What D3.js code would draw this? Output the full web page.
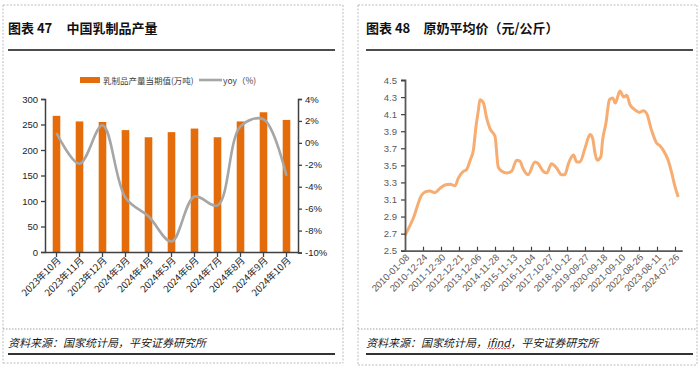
<!DOCTYPE html>
<html><head><meta charset="utf-8">
<script src="https://cdn.jsdelivr.net/npm/d3@7"></script>
<style>
html,body{margin:0;padding:0;background:#fff;}
svg{display:block;}
text{font-family:"Liberation Sans",Arial,"Noto Sans CJK SC",sans-serif;}
.cjk{font-family:"Noto Sans CJK SC","Liberation Sans",sans-serif;}
</style></head>
<body>
<svg id="c" width="700" height="369"></svg>
<script>
// ---------- data ----------
const months = ["2023年10月","2023年11月","2023年12月","2024年3月","2024年4月","2024年5月","2024年6月","2024年7月","2024年8月","2024年9月","2024年10月"];
const output = [267, 256, 255, 239, 225, 235, 242, 225, 256, 274, 259];
const yoy = [0.9, -1.9, 1.6, -5.0, -6.7, -9.0, -4.9, -5.7, 1.5, 2.15, -3.0];
const leftTicks = [0, 50, 100, 150, 200, 250, 300];
const rightTicks = [-10, -8, -6, -4, -2, 0, 2, 4];

const priceDateLabels = ["2010-01-08","2010-12-24","2011-12-30","2012-12-21","2013-12-06","2014-11-28","2015-11-13","2016-11-04","2017-10-27","2018-10-12","2019-09-27","2020-09-18","2021-09-10","2022-08-26","2023-08-11","2024-07-26"];
const priceWeek = [0,23,46,56,69,83,97,111,125,139,148,162,171,181,190,197,204,208,218,227,236,250,259,269,282,296,310,319,328,342,361,370,384,394,407,421,435,444,454,468,477,486,500,514,521,528,534,544,549,558,568,577,584,597,608,616,625,639,651,662,671,685,699,708,717,731,741,750,759];
const priceValue = [2.68,2.88,3.15,3.19,3.20,3.18,3.23,3.27,3.28,3.26,3.35,3.43,3.45,3.56,3.68,3.95,4.15,4.27,4.23,4.05,3.93,3.84,3.48,3.43,3.41,3.43,3.56,3.55,3.46,3.39,3.54,3.52,3.43,3.41,3.52,3.47,3.39,3.39,3.52,3.62,3.54,3.54,3.70,3.86,3.82,3.64,3.56,3.60,3.80,3.99,4.27,4.29,4.23,4.37,4.30,4.32,4.21,4.15,4.12,4.14,4.11,3.91,3.76,3.73,3.68,3.56,3.41,3.25,3.13];
const priceTicks = [2.5,2.7,2.9,3.1,3.3,3.5,3.7,3.9,4.1,4.3,4.5];

const svg = d3.select("#c");

// ---------- frames ----------
function frame(x0, x1, tx, tEnd, title1, title2, t2x, source, bottom) {
  const dash = (a, b, c, d) => svg.append("line").attr("x1", a).attr("y1", b).attr("x2", c).attr("y2", d)
    .attr("stroke", "#bdbdbd").attr("stroke-dasharray", "2,1.5");
  dash(x0, 5, x0, bottom); dash(x1, 5, x1, bottom); dash(x0, 5, x1, 5); dash(x0, bottom, x1, bottom);
  svg.append("line").attr("x1", x0).attr("x2", x1).attr("y1", 329).attr("y2", 329)
    .attr("stroke", "#a0a0a0").attr("stroke-dasharray", "1.5,1.5");
  svg.append("text").attr("class", "cjk").attr("x", tx).attr("y", 33)
    .attr("font-size", 13).attr("font-weight", "bold").attr("fill", "#111").text(title1);
  svg.append("text").attr("class", "cjk").attr("x", t2x).attr("y", 33)
    .attr("font-size", 13).attr("font-weight", "bold").attr("fill", "#111").text(title2);
  svg.append("line").attr("x1", tx).attr("x2", tEnd).attr("y1", 50).attr("y2", 50)
    .attr("stroke", "#111").attr("stroke-width", 1.6);
  const st = svg.append("text").attr("class", "cjk").attr("x", tx).attr("y", 347)
    .attr("font-size", 11).attr("font-style", "italic").attr("fill", "#1a1a1a").text(source);
  svg.append("line").attr("x1", tx).attr("x2", tEnd).attr("y1", 354).attr("y2", 354)
    .attr("stroke", "#333").attr("stroke-width", 1.8);
  return st;
}
frame(3, 343, 8, 335, "图表 47", "中国乳制品产量", 66.5, "资料来源：国家统计局，平安证券研究所", 363);
const st2 = frame(358, 697, 366, 693, "图表 48", "原奶平均价（元/公斤）", 423.5, "资料来源：国家统计局，ifind，平安证券研究所", 365);

// red wavy spell-check underline under "ifind"
(function () {
  const full = "资料来源：国家统计局，ifind，平安证券研究所";
  const s = full.indexOf("ifind");
  const node = st2.node();
  const a = node.getStartPositionOfChar(s).x;
  const b = node.getEndPositionOfChar(s + 4).x;
  let p = `M${a},349`;
  for (let xx = a, k = 0; xx < b; xx += 1.5, k++) p += ` L${Math.min(xx + 1.5, b)},${k % 2 ? 349 : 347.6}`;
  svg.append("path").attr("d", p).attr("fill", "none").attr("stroke", "#e03030").attr("stroke-width", 0.8);
})();

// ---------- left chart ----------
const x = d3.scaleBand().domain(months).range([45, 298]).paddingInner(0.67).paddingOuter(0.335);
const yL = d3.scaleLinear().domain([0, 300]).range([252, 99]);
const yR = d3.scaleLinear().domain([-10, 4]).range([252.5, 99]);
const gL = svg.append("g");

gL.selectAll("rect.bar").data(output).enter().append("rect")
  .attr("x", (d, i) => x(months[i])).attr("width", x.bandwidth())
  .attr("y", d => yL(d)).attr("height", d => yL(0) - yL(d)).attr("fill", "#E46C0A");

const line = d3.line().x((d, i) => x(months[i]) + x.bandwidth() / 2).y(d => yR(d)).curve(d3.curveCatmullRom.alpha(0.5));
gL.append("path").attr("d", line(yoy)).attr("fill", "none").attr("stroke", "#A6A6A6").attr("stroke-width", 2.6);

const axL = d3.axisLeft(yL).tickValues(leftTicks).tickSize(4).tickPadding(3);
const gAL = gL.append("g").attr("transform", "translate(45,0)").call(axL);
const axR = d3.axisRight(yR).tickValues(rightTicks).tickSize(4).tickPadding(3).tickFormat(d => d + "%");
const gAR = gL.append("g").attr("transform", "translate(298,0)").call(axR);
const axB = d3.axisBottom(x).tickSize(5).tickSizeOuter(0).tickFormat("");
const gAB = gL.append("g").attr("transform", "translate(0,252)").call(axB);
[gAL, gAR, gAB].forEach(g => {
  g.selectAll("path").attr("stroke", "#404040").attr("stroke-width", 1.5);
  g.selectAll("line").attr("stroke", "#404040").attr("stroke-width", 1.3);
  g.selectAll("text").attr("font-size", 9.5).attr("fill", "#222").attr("font-family", "Liberation Sans, Arial, sans-serif");
});
gL.selectAll("text.xl").data(months).enter().append("text").attr("class", "cjk")
  .attr("text-anchor", "end").attr("font-size", 9.5).attr("fill", "#222")
  .attr("transform", d => `translate(${x(d) + x.bandwidth() / 2 + 5},261) rotate(-45)`).text(d => d);

// legend
gL.append("rect").attr("x", 80).attr("y", 77).attr("width", 20).attr("height", 6).attr("fill", "#E46C0A");
gL.append("text").attr("class", "cjk").attr("x", 103).attr("y", 83.5).attr("font-size", 8.5).attr("fill", "#404040").text("乳制品产量当期值(万吨)");
gL.append("line").attr("x1", 199).attr("x2", 222).attr("y1", 80).attr("y2", 80).attr("stroke", "#A6A6A6").attr("stroke-width", 2.6);
gL.append("text").attr("class", "cjk").attr("x", 223).attr("y", 83.5).attr("font-size", 8.5).attr("fill", "#404040").text("yoy（%)");

// ---------- right chart ----------
const xP = d3.scaleLinear().domain([0, 770]).range([405, 682.2]);
const yP = d3.scaleLinear().domain([2.5, 4.5]).range([250.7, 80]);
const gR = svg.append("g");
const pline = d3.line().x(d => xP(d[0])).y(d => yP(d[1])).curve(d3.curveMonotoneX);
gR.append("path").attr("d", pline(priceWeek.map((w, i) => [w, priceValue[i]])))
  .attr("fill", "none").attr("stroke", "#F7AD72").attr("stroke-width", 3).attr("stroke-linejoin", "round");

const axP = d3.axisLeft(yP).tickValues(priceTicks).tickSize(4).tickPadding(4).tickFormat(d3.format(".1f"));
const gAP = gR.append("g").attr("transform", "translate(405,0)").call(axP);
const labelPos = priceDateLabels.map((d, i) => i * 50);
const axPB = d3.axisBottom(xP).tickValues(labelPos.slice(1)).tickSize(-4).tickSizeOuter(0).tickFormat("");
const gAPB = gR.append("g").attr("transform", "translate(0,250.7)").call(axPB);
[gAP, gAPB].forEach(g => {
  g.selectAll("path").attr("stroke", "#595959").attr("stroke-width", 1.8);
  g.selectAll("line").attr("stroke", "#404040").attr("stroke-width", 1.2);
  g.selectAll("text").attr("font-size", 9.5).attr("fill", "#595959").attr("font-family", "Liberation Sans, Arial, sans-serif");
});
gR.selectAll("text.xp").data(priceDateLabels).enter().append("text")
  .attr("text-anchor", "end").attr("font-size", 9.5).attr("fill", "#595959")
  .attr("transform", (d, i) => `translate(${xP(labelPos[i]) + 5},258) rotate(-45)`).text(d => d);
</script>
</body></html>
